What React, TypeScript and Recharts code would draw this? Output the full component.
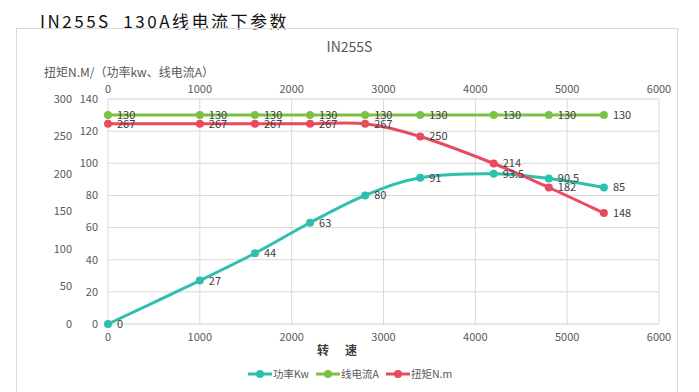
import React from "react";
import {
  LineChart,
  Line,
  XAxis,
  YAxis,
  CartesianGrid,
  LabelList,
} from "recharts";

const speed = [0, 1000, 1600, 2200, 2800, 3400, 4200, 4800, 5400];
const power = [0, 27, 44, 63, 80, 91, 93.5, 90.5, 85];
const current = [130, 130, 130, 130, 130, 130, 130, 130, 130];
const torque = [267, 267, 267, 267, 267, 250, 214, 182, 148];

const speedTicks = [0, 1000, 2000, 3000, 4000, 5000, 6000];
const leftTicks = [0, 20, 40, 60, 80, 100, 120, 140];
const torqueTicks = [0, 50, 100, 150, 200, 250, 300];
const minorTicks = Array.from({ length: 36 }, (_, i) => i * 4);

const seriesNames = ["功率Kw", "线电流A", "扭矩N.m"];
const colors = ["#2ebfae", "#7cc142", "#e84a5f"];

const data = speed.map((s, i) => ({
  speed: s,
  power: power[i],
  current: current[i],
  torque: torque[i],
}));

const FONT = '"Noto Sans CJK SC", "Noto Sans", sans-serif';

// excel-like smoothed line (catmull-rom through the points)
function smooth(context: any) {
  let xs: number[] = [];
  let ys: number[] = [];
  return {
    areaStart() {},
    areaEnd() {},
    lineStart() {
      xs = [];
      ys = [];
    },
    point(x: number, y: number) {
      xs.push(+x);
      ys.push(+y);
    },
    lineEnd() {
      const n = xs.length;
      if (!n) return;
      context.moveTo(xs[0], ys[0]);
      for (let i = 0; i < n - 1; i++) {
        const a = Math.max(i - 1, 0);
        const d = Math.min(i + 2, n - 1);
        const c1x = xs[i] + (xs[i + 1] - xs[a]) / 6;
        const c1y = ys[i] + (ys[i + 1] - ys[a]) / 6;
        const c2x = xs[i + 1] - (xs[d] - xs[i]) / 6;
        const c2y = ys[i + 1] - (ys[d] - ys[i]) / 6;
        context.bezierCurveTo(c1x, c1y, c2x, c2y, xs[i + 1], ys[i + 1]);
      }
    },
  };
}

const tickStyle = { fill: "#595959", fontSize: 11, fontFamily: FONT };
const labelStyle = { fill: "#404040", fontSize: 11, fontFamily: FONT };

function LegendIcon({ color }: { color: string }) {
  return (
    <svg width={24} height={10} style={{ marginRight: 1 }}>
      <line x1={0} y1={5} x2={24} y2={5} stroke={color} strokeWidth={3} />
      <circle cx={12} cy={5} r={4} fill={color} />
    </svg>
  );
}

export default function App() {
  return (
    <div
      style={{
        position: "absolute",
        left: 0,
        top: 0,
        width: 699,
        height: 392,
        background: "#fff",
        fontFamily: FONT,
        overflow: "hidden",
      }}
    >
      <div
        style={{
          position: "absolute",
          left: 40,
          top: 8,
          fontSize: 17,
          letterSpacing: 2.5,
          color: "#111",
          whiteSpace: "nowrap",
        }}
      >
        IN255S&nbsp;&nbsp;130A线电流下参数
      </div>
      {/* chart frame */}
      <div
        style={{
          position: "absolute",
          left: 16,
          top: 28,
          width: 660,
          height: 400,
          border: "1px solid #d9d9d9",
        }}
      />
      <div
        style={{
          position: "absolute",
          left: 0,
          width: 699,
          top: 36,
          textAlign: "center",
          fontSize: 14,
          color: "#595959",
        }}
      >
        IN255S
      </div>
      <div
        style={{
          position: "absolute",
          left: 44,
          top: 63,
          fontSize: 12,
          color: "#595959",
          whiteSpace: "nowrap",
        }}
      >
        扭矩N.M/（功率kw、线电流A）
      </div>
      <div
        style={{
          position: "absolute",
          left: 317,
          top: 341,
          fontSize: 12,
          fontWeight: 600,
          color: "#404040",
          whiteSpace: "nowrap",
          letterSpacing: 16,
        }}
      >
        转速
      </div>

      <div style={{ position: "absolute", left: 0, top: 0 }}>
        <LineChart
          width={699}
          height={392}
          data={data}
          margin={{ top: 79, right: 40, left: 48, bottom: 48 }}
        >
          <XAxis
            xAxisId="bottom"
            dataKey="speed"
            type="number"
            domain={[0, 6000]}
            ticks={speedTicks}
            axisLine={false}
            tickLine={false}
            tickSize={0}
            tickMargin={9}
            height={20}
            tick={tickStyle}
          />
          <XAxis
            xAxisId="top"
            orientation="top"
            dataKey="speed"
            type="number"
            domain={[0, 6000]}
            ticks={speedTicks}
            axisLine={false}
            tickLine={false}
            tickSize={0}
            tickMargin={6}
            height={20}
            tick={tickStyle}
          />
          <YAxis
            yAxisId="p"
            type="number"
            domain={[0, 140]}
            ticks={leftTicks}
            axisLine={false}
            tickLine={false}
            tickSize={0}
            tickMargin={10}
            width={30}
            tick={tickStyle}
          />
          <YAxis
            yAxisId="t"
            type="number"
            domain={[0, 300]}
            ticks={torqueTicks}
            axisLine={false}
            tickLine={false}
            tickSize={0}
            tickMargin={6}
            width={30}
            tick={tickStyle}
          />
          <YAxis
            yAxisId="minor"
            orientation="right"
            type="number"
            domain={[0, 140]}
            ticks={minorTicks}
            width={0}
            hide
          />
          <CartesianGrid
            xAxisId="bottom"
            yAxisId="minor"
            stroke="#f0f0f0"
            vertical={false}
          />
          <CartesianGrid
            xAxisId="bottom"
            yAxisId="p"
            stroke="#d9d9d9"
          />
          <Line
            xAxisId="bottom"
            yAxisId="p"
            dataKey="power"
            name={seriesNames[0]}
            type={smooth as any}
            stroke={colors[0]}
            strokeWidth={3}
            dot={{ r: 4, fill: colors[0], stroke: colors[0], strokeWidth: 0 }}
            isAnimationActive={false}
          >
            <LabelList dataKey="power" position="right" offset={9} style={labelStyle} />
          </Line>
          <Line
            xAxisId="bottom"
            yAxisId="p"
            dataKey="current"
            name={seriesNames[1]}
            type="linear"
            stroke={colors[1]}
            strokeWidth={3}
            dot={{ r: 4, fill: colors[1], stroke: colors[1], strokeWidth: 0 }}
            isAnimationActive={false}
          >
            <LabelList dataKey="current" position="right" offset={9} style={labelStyle} />
          </Line>
          <Line
            xAxisId="bottom"
            yAxisId="t"
            dataKey="torque"
            name={seriesNames[2]}
            type={smooth as any}
            stroke={colors[2]}
            strokeWidth={3}
            dot={{ r: 4, fill: colors[2], stroke: colors[2], strokeWidth: 0 }}
            isAnimationActive={false}
          >
            <LabelList dataKey="torque" position="right" offset={9} style={labelStyle} />
          </Line>
        </LineChart>
      </div>

      <div
        style={{
          position: "absolute",
          left: 248,
          top: 366,
          display: "flex",
          alignItems: "center",
          fontSize: 10.5,
          color: "#595959",
          whiteSpace: "nowrap",
        }}
      >
        {seriesNames.map((n, i) => (
          <div
            key={n}
            style={{ display: "flex", alignItems: "center", marginRight: 7 }}
          >
            <LegendIcon color={colors[i]} />
            <span>{n}</span>
          </div>
        ))}
      </div>
    </div>
  );
}
